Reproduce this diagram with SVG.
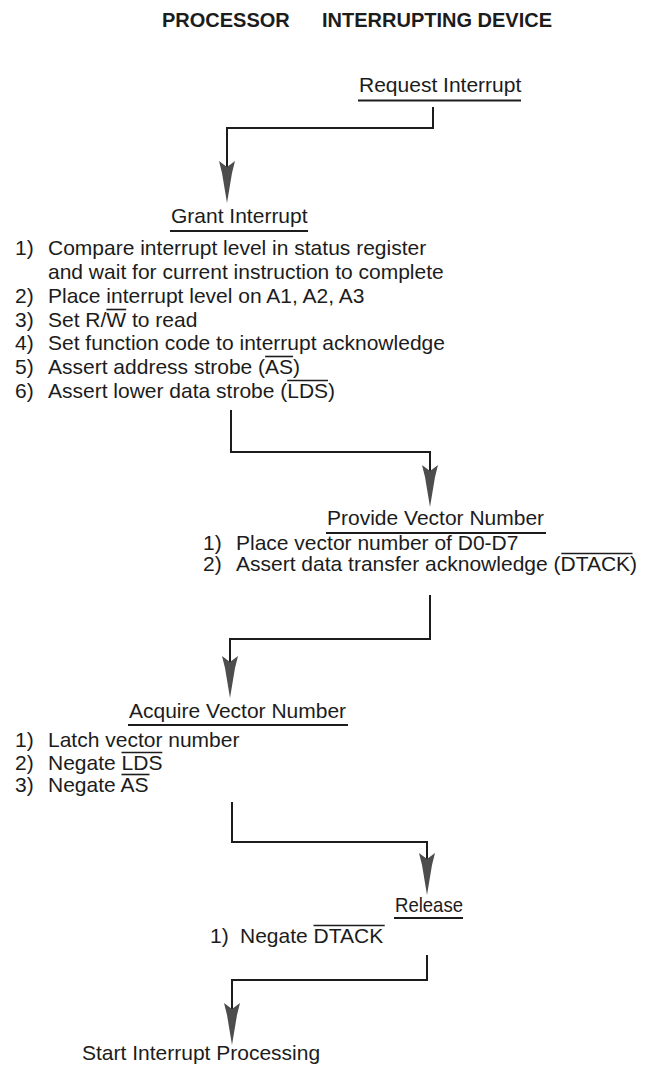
<svg xmlns="http://www.w3.org/2000/svg" width="665" height="1073" viewBox="0 0 665 1073">
<defs>
<style>
text{font-family:"Liberation Sans",Arial,sans-serif;font-size:21px;fill:#1c1c1c}
.hdr{font-weight:bold;font-size:20px}
.ul{stroke:#1c1c1c;stroke-width:2.2}
.ov{stroke:#1c1c1c;stroke-width:1.6}
.wire{fill:none;stroke:#1c1c1c;stroke-width:2}
.ah{fill:#4d4d4d}
</style>
<path id="ah" class="ah" d="M0,0 L-5,-30 L-8,-42 L0,-36 L8,-42 L5,-30 Z"/>
</defs>
<g id="header">
<text class="hdr" x="162" y="27">PROCESSOR</text>
<text class="hdr" x="322" y="27">INTERRUPTING DEVICE</text>
</g>
<g id="request">
<text x="359" y="92">Request Interrupt</text>
<line class="ul" x1="358" y1="100.5" x2="521" y2="100.5"/>
</g>
<g id="grant">
<text x="171" y="223">Grant Interrupt</text>
<line class="ul" x1="170" y1="231" x2="308" y2="231"/>
<text x="15" y="255">1)</text><text x="48" y="255">Compare interrupt level in status register</text>
<text x="48" y="279">and wait for current instruction to complete</text>
<text x="15" y="303">2)</text><text x="48" y="303">Place interrupt level on A1, A2, A3</text>
<text x="15" y="327">3)</text><text x="48" y="327">Set R/W to read</text>
<line class="ov" x1="106.4" y1="309.5" x2="126.2" y2="309.5"/>
<text x="15" y="350">4)</text><text x="48" y="350">Set function code to interrupt acknowledge</text>
<text x="15" y="374">5)</text><text x="48" y="374">Assert address strobe (AS)</text>
<line class="ov" x1="265.1" y1="356.5" x2="293.1" y2="356.5"/>
<text x="15" y="398">6)</text><text x="48" y="398">Assert lower data strobe (LDS)</text>
<line class="ov" x1="287.2" y1="380.5" x2="328" y2="380.5"/>
</g>
<g id="provide">
<text x="327" y="525">Provide Vector Number</text>
<line class="ul" x1="326" y1="533" x2="546" y2="533"/>
<text x="203" y="550">1)</text><text x="236" y="550">Place vector number of D0-D7</text>
<text x="203" y="571">2)</text><text x="236" y="571">Assert data transfer acknowledge (DTACK)</text>
<line class="ov" x1="561.3" y1="553.5" x2="632.5" y2="553.5"/>
</g>
<g id="acquire">
<text x="129" y="718">Acquire Vector Number</text>
<line class="ul" x1="128" y1="725" x2="348" y2="725"/>
<text x="15" y="747">1)</text><text x="48" y="747">Latch vector number</text>
<text x="15" y="770">2)</text><text x="48" y="770">Negate LDS</text>
<line class="ov" x1="121.5" y1="752.5" x2="162.3" y2="752.5"/>
<text x="15" y="792">3)</text><text x="48" y="792">Negate AS</text>
<line class="ov" x1="121.5" y1="774.5" x2="149.5" y2="774.5"/>
</g>
<g id="release">
<text x="395" y="912" textLength="68" lengthAdjust="spacingAndGlyphs">Release</text>
<line class="ul" x1="394" y1="918" x2="463" y2="918"/>
<text x="210" y="943">1)</text><text x="240" y="943">Negate DTACK</text>
<line class="ov" x1="313.5" y1="925.5" x2="384.7" y2="925.5"/>
</g>
<g id="start">
<text x="82" y="1060">Start Interrupt Processing</text>
</g>
<g id="connectors">
<path class="wire" d="M433,107 V128 H227 V170"/>
<use href="#ah" x="227" y="203"/>
<path class="wire" d="M231,410 V452 H430 V475"/>
<use href="#ah" x="430" y="507"/>
<path class="wire" d="M430,595 V639 H230 V665"/>
<use href="#ah" x="230" y="698"/>
<path class="wire" d="M232,802 V842 H427 V862"/>
<use href="#ah" x="427" y="895"/>
<path class="wire" d="M427,955 V980 H232 V1012"/>
<use href="#ah" x="232" y="1045"/>
</g>
</svg>
